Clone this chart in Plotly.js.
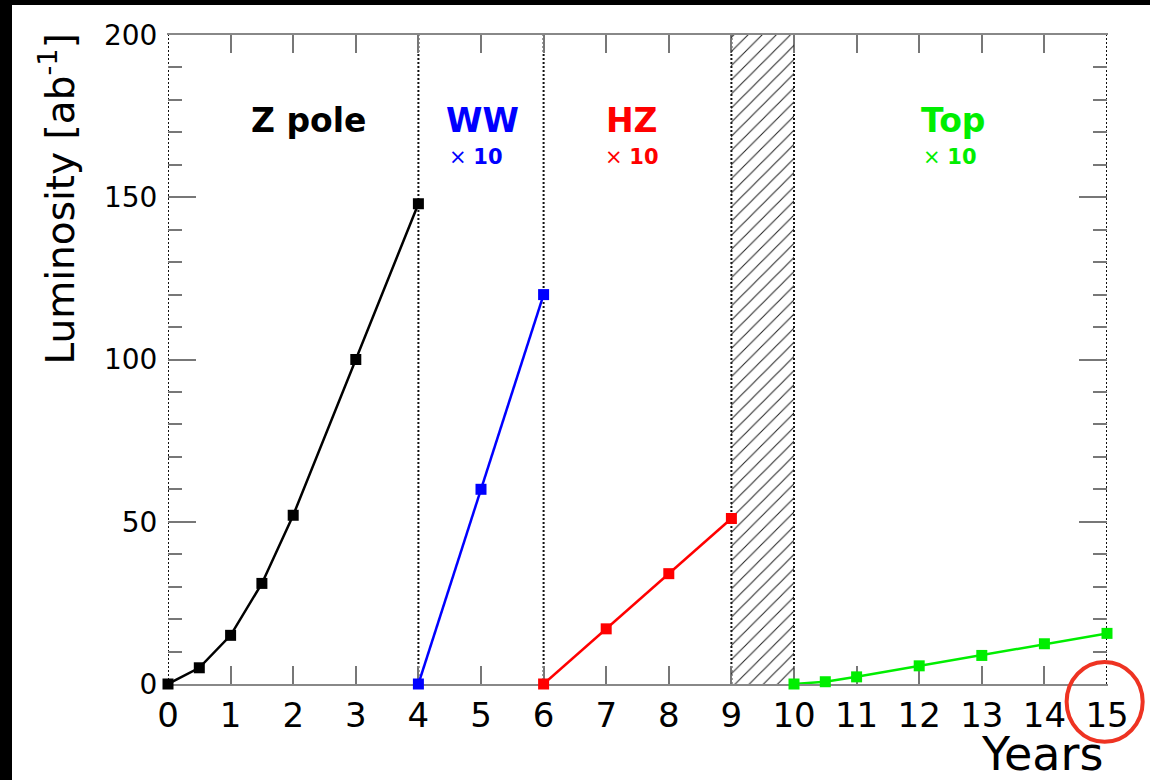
<!DOCTYPE html>
<html>
<head>
<meta charset="utf-8">
<script src="https://cdn.plot.ly/plotly-3.0.1.min.js"></script>
<style>
  html, body { margin: 0; padding: 0; background: #000; width: 1150px; height: 780px; overflow: hidden; }
  #chart { position: absolute; left: 12px; top: 5px; width: 1138px; height: 775px; background: #fff; }
</style>
</head>
<body>
<div id="chart"></div>
<script>
// ---- data ----
const zYears   = [0, 0.5, 1, 1.5, 2, 3, 4];
const zLumi    = [0, 5, 15, 31, 52, 100, 148];
const wwYears  = [4, 5, 6];
const wwLumi   = [0, 60, 120];
const hzYears  = [6, 7, 8, 9];
const hzLumi   = [0, 17, 34, 51];
const topYears = [10, 10.5, 11, 12, 13, 14, 15];
const topLumi  = [0, 0.7, 2.2, 5.6, 8.8, 12.4, 15.6];
const phaseBoundaries = [0, 4, 6, 9, 10, 15];
const shutdownStart = 9, shutdownEnd = 10;
const phaseNames = ['Z pole', 'WW', 'HZ', 'Top'];
const scaleNote = '× <b>10</b>';
const xTickVals = [0,1,2,3,4,5,6,7,8,9,10,11,12,13,14,15];
const yTickVals = [0, 50, 100, 150, 200];

const FONT = 'DejaVu Sans, Liberation Sans, Arial, sans-serif';
const GREEN = '#00ee00', BLUE = '#0000ff', RED = '#ff0000', BLACK = '#000000';

function series(x, y, color) {
  return {
    type: 'scatter', mode: 'lines+markers', x: x, y: y,
    line: { color: color, width: 2.5 },
    marker: { symbol: 'square', size: 11, color: color },
    cliponaxis: false, showlegend: false, hoverinfo: 'x+y'
  };
}

const traces = [
  {
    type: 'bar', x: [(shutdownStart + shutdownEnd) / 2], y: [200], width: [shutdownEnd - shutdownStart],
    marker: { color: 'rgba(0,0,0,0)', line: { width: 0 },
      pattern: { shape: '/', fgcolor: '#222222', bgcolor: 'rgba(0,0,0,0)', size: 10, solidity: 0.1 } },
    showlegend: false, hoverinfo: 'skip'
  },
  series(zYears, zLumi, BLACK),
  series(wwYears, wwLumi, BLUE),
  series(hzYears, hzLumi, RED),
  series(topYears, topLumi, GREEN)
];

const shapes = phaseBoundaries.map(b => ({
  type: 'line', xref: 'x', yref: 'y', x0: b, x1: b, y0: 0, y1: 200, layer: 'below',
  line: { color: '#111', width: 2, dash: '2px,2px' }
}));
shapes.push({
  type: 'circle', xref: 'paper', yref: 'paper',
  x0: 0.957, x1: 1.038, y0: -0.089, y1: 0.034,
  line: { color: '#ee3322', width: 4 }
});

const phaseColors = [BLACK, BLUE, RED, GREEN];
const labelX = [2.24, 5.02, 7.41, 12.54];
const noteX = [null, 4.92, 7.41, 12.49];
const annotations = [];
phaseNames.forEach((name, i) => {
  annotations.push({
    xref: 'x', yref: 'y', x: labelX[i], y: 173.8, text: '<b>' + name + '</b>',
    showarrow: false, xanchor: 'center', yanchor: 'middle',
    font: { family: FONT, size: 33, color: phaseColors[i] }
  });
  if (i > 0) {
    annotations.push({
      xref: 'x', yref: 'y', x: noteX[i], y: 162.4, text: scaleNote,
      showarrow: false, xanchor: 'center', yanchor: 'middle',
      font: { family: FONT, size: 21, color: phaseColors[i] }
    });
  }
});
annotations.push({
  xref: 'paper', yref: 'paper', x: 0, y: 1, xshift: -111, yshift: 3,
  xanchor: 'center', yanchor: 'top', textangle: -90,
  text: 'Luminosity [ab<sup>-1</sup>]', showarrow: false,
  font: { family: FONT, size: 39, color: '#000' }
});
annotations.push({
  xref: 'paper', yref: 'paper', x: 1, y: 0, xshift: -2, yshift: -70,
  xanchor: 'right', yanchor: 'middle',
  text: 'Years', showarrow: false,
  font: { family: FONT, size: 46, color: '#000' }
});

const layout = {
  width: 1138, height: 775,
  margin: { l: 156, r: 43, t: 30, b: 96, pad: 0 },
  paper_bgcolor: '#ffffff', plot_bgcolor: '#ffffff',
  showlegend: false, bargap: 0,
  xaxis: {
    range: [0, 15], tickvals: xTickVals, ticktext: xTickVals.map(String),
    showgrid: false, zeroline: false, layer: 'below traces',
    showline: true, linecolor: '#888', linewidth: 2, mirror: 'ticks',
    ticks: 'inside', ticklen: 18, tickwidth: 2, tickcolor: '#777',
    tickfont: { family: FONT, size: 34, color: '#000' }
  },
  yaxis: {
    range: [0, 200], tickvals: yTickVals, ticktext: yTickVals.map(String),
    showgrid: false, zeroline: false, layer: 'below traces',
    showline: true, linecolor: 'rgba(0,0,0,0)', linewidth: 1, mirror: 'ticks',
    ticks: 'inside', ticklen: 28, tickwidth: 2, tickcolor: '#777',
    minor: { ticks: 'inside', ticklen: 14, dtick: 10, tickwidth: 2, tickcolor: '#777', showgrid: false },
    ticklabelstandoff: 4,
    tickfont: { family: FONT, size: 28, color: '#000' }
  },
  shapes: shapes,
  annotations: annotations
};

Plotly.newPlot('chart', traces, layout, { displayModeBar: false, staticPlot: true });
</script>
</body>
</html>
